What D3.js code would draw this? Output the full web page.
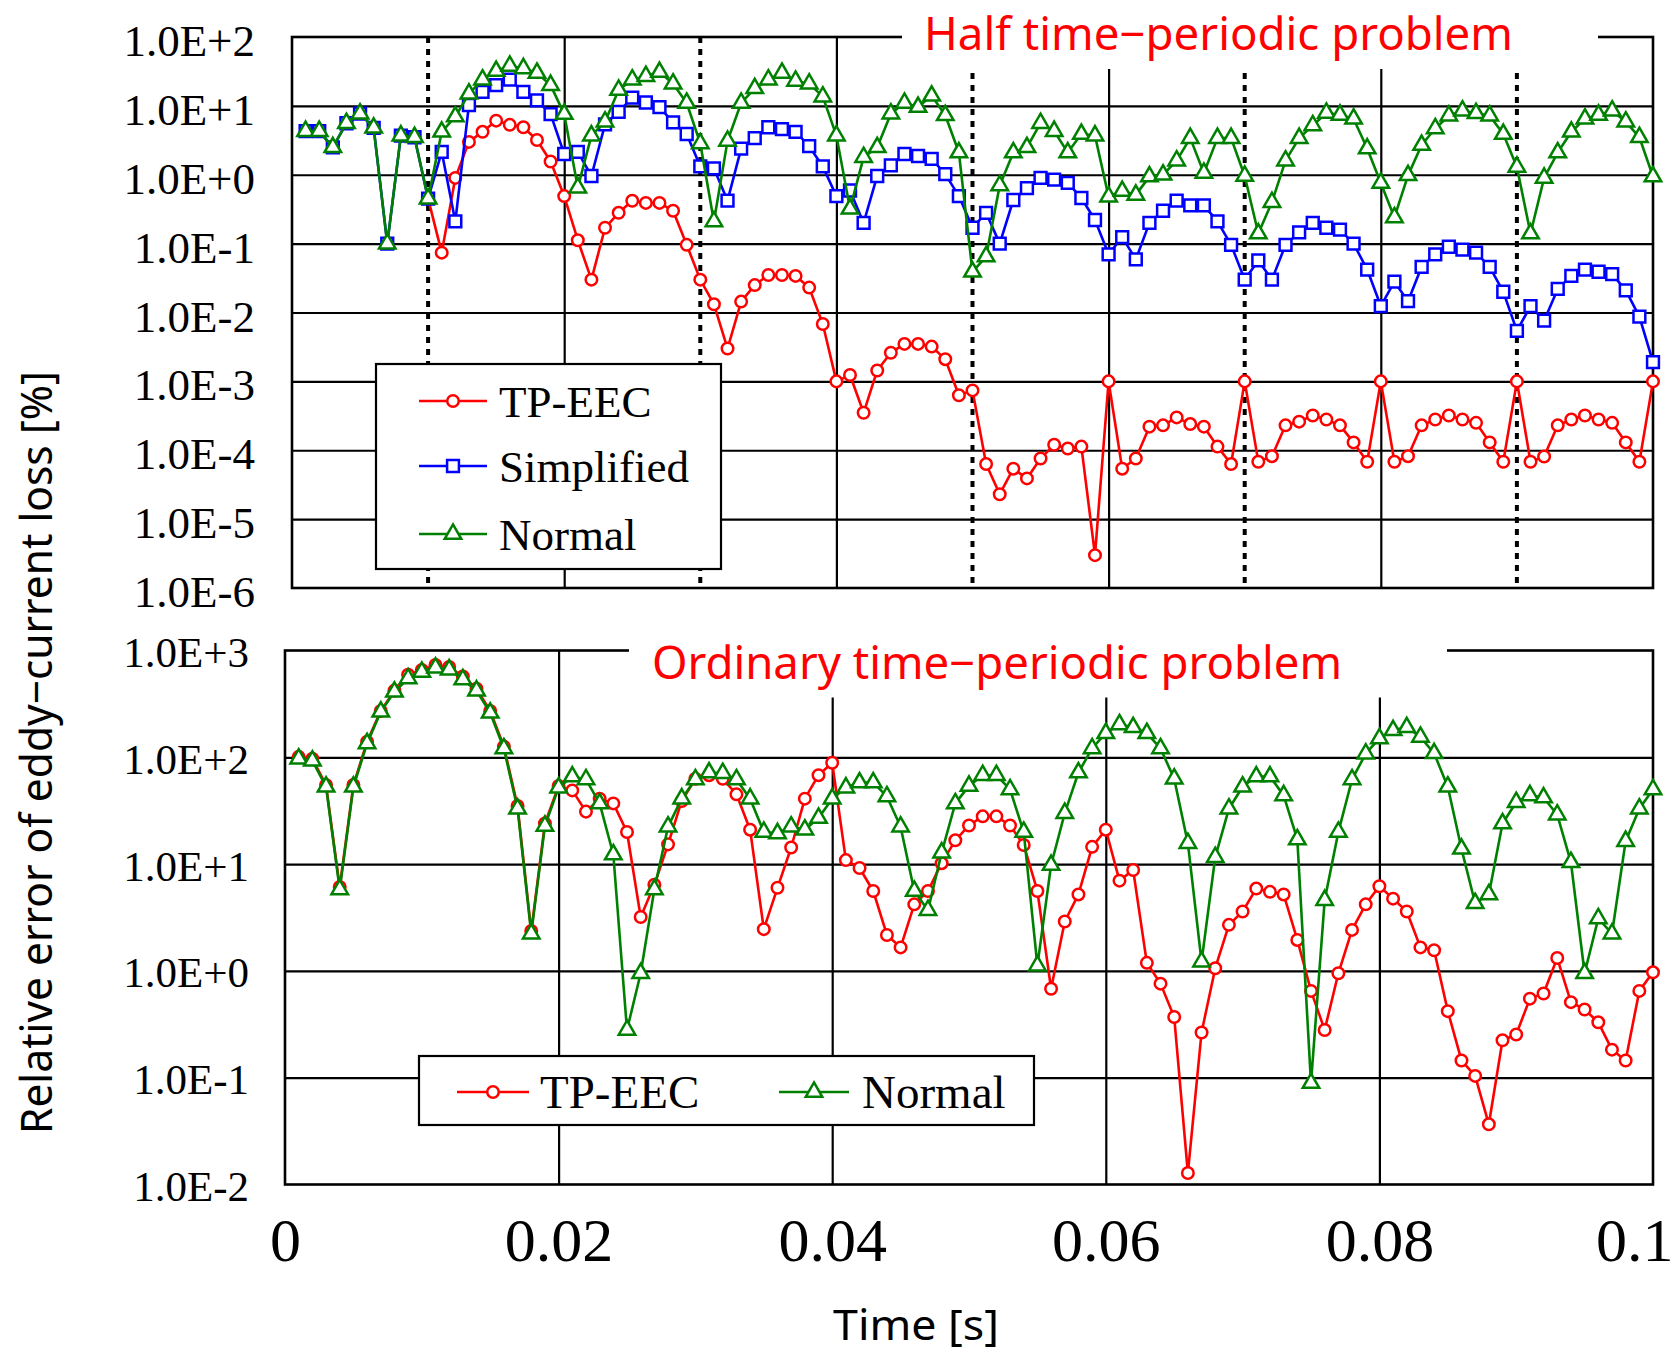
<!DOCTYPE html>
<html>
<head>
<meta charset="utf-8">
<script src="https://cdn.jsdelivr.net/npm/d3@7"></script>
<style>
  body { margin: 0; background: #fff; }
</style>
</head>
<body>
<div id="app"></div>
<script>
'use strict'

// sample times [s], one every 1 ms
const time = [
  0.001, 0.002, 0.003, 0.004, 0.005, 0.006, 0.007, 0.008, 0.009, 0.010,
  0.011, 0.012, 0.013, 0.014, 0.015, 0.016, 0.017, 0.018, 0.019, 0.020,
  0.021, 0.022, 0.023, 0.024, 0.025, 0.026, 0.027, 0.028, 0.029, 0.030,
  0.031, 0.032, 0.033, 0.034, 0.035, 0.036, 0.037, 0.038, 0.039, 0.040,
  0.041, 0.042, 0.043, 0.044, 0.045, 0.046, 0.047, 0.048, 0.049, 0.050,
  0.051, 0.052, 0.053, 0.054, 0.055, 0.056, 0.057, 0.058, 0.059, 0.060,
  0.061, 0.062, 0.063, 0.064, 0.065, 0.066, 0.067, 0.068, 0.069, 0.070,
  0.071, 0.072, 0.073, 0.074, 0.075, 0.076, 0.077, 0.078, 0.079, 0.080,
  0.081, 0.082, 0.083, 0.084, 0.085, 0.086, 0.087, 0.088, 0.089, 0.090,
  0.091, 0.092, 0.093, 0.094, 0.095, 0.096, 0.097, 0.098, 0.099, 0.100
]

// Half time-periodic problem, relative error [%]
const halfTpeec = [
  null, null, null, null, null, null, null, null, null, 0.45,
  0.074, 0.90, 3.0, 4.2, 6.1, 5.3, 4.9, 3.2, 1.56, 0.49,
  0.112, 0.030, 0.17, 0.28, 0.42, 0.39, 0.39, 0.30, 0.096, 0.030,
  0.0132, 0.0030, 0.0144, 0.025, 0.035, 0.035, 0.034, 0.023, 0.0068, 0.0010,
  0.00124, 0.00035, 0.00144, 0.0026, 0.0035, 0.0035, 0.0032, 0.0021, 0.00063, 0.00074,
  6.3e-5, 2.3e-5, 5.4e-5, 3.9e-5, 7.6e-5, 1.2e-4, 1.06e-4, 1.13e-4, 3.0e-6, 1.0e-3,
  5.4e-5, 7.6e-5, 2.2e-4, 2.3e-4, 3.0e-4, 2.4e-4, 2.2e-4, 1.13e-4, 6.3e-5, 1.0e-3,
  6.8e-5, 8.2e-5, 2.3e-4, 2.6e-4, 3.2e-4, 2.8e-4, 2.3e-4, 1.3e-4, 6.8e-5, 1.0e-3,
  6.8e-5, 8.2e-5, 2.3e-4, 2.8e-4, 3.2e-4, 2.8e-4, 2.5e-4, 1.3e-4, 6.8e-5, 1.0e-3,
  6.8e-5, 8.1e-5, 2.3e-4, 2.8e-4, 3.2e-4, 2.8e-4, 2.5e-4, 1.3e-4, 6.8e-5, 1.0e-3
]
const halfSimplified = [
  4.3, 4.3, 2.5, 5.6, 7.7, 4.8, 0.10, 3.7, 3.5, 0.45,
  2.15, 0.21, 10.3, 16, 20, 24, 16, 12, 7.6, 2.0,
  2.15, 0.96, 5.4, 8.2, 13.2, 11.2, 9.6, 5.75, 3.9, 1.32,
  1.24, 0.42, 2.4, 3.4, 4.9, 4.6, 4.2, 2.6, 1.32, 0.49,
  0.59, 0.20, 0.96, 1.37, 2.0, 1.87, 1.7, 1.02, 0.49, 0.17,
  0.28, 0.10, 0.43, 0.64, 0.90, 0.85, 0.76, 0.46, 0.22, 0.070,
  0.124, 0.059, 0.20, 0.30, 0.42, 0.36, 0.36, 0.21, 0.096, 0.030,
  0.057, 0.030, 0.096, 0.146, 0.20, 0.17, 0.16, 0.10, 0.042, 0.0124,
  0.028, 0.0146, 0.046, 0.070, 0.090, 0.082, 0.074, 0.046, 0.020, 0.0054,
  0.0124, 0.0076, 0.022, 0.034, 0.042, 0.039, 0.036, 0.021, 0.0087, 0.0019
]
const halfNormal = [
  4.3, 4.3, 2.5, 5.6, 7.7, 4.8, 0.10, 3.7, 3.5, 0.45,
  4.2, 7.0, 15, 24, 32, 38, 35, 30, 20, 7.6,
  0.65, 3.7, 5.9, 17, 24, 27, 31, 21, 11, 2.85,
  0.21, 3.1, 11, 18, 24, 30, 23, 21, 13.6, 3.7,
  0.32, 1.8, 2.5, 7.7, 11, 9.6, 14, 7.3, 2.1, 0.039,
  0.065, 0.70, 2.1, 2.5, 5.6, 4.3, 2.1, 3.9, 3.7, 0.48,
  0.58, 0.51, 0.94, 1.0, 1.6, 3.4, 1.06, 3.4, 3.4, 0.96,
  0.14, 0.40, 1.6, 3.4, 5.2, 7.9, 7.4, 6.5, 2.4, 0.76,
  0.24, 0.98, 2.7, 4.7, 7.2, 8.5, 7.8, 7.2, 3.9, 1.3,
  0.14, 0.90, 2.1, 4.2, 6.5, 7.4, 8.5, 5.9, 3.5, 0.94
]

// Ordinary time-periodic problem, relative error [%]
const ordTpeec = [
  101, 97, 55, 6.1, 55, 140, 272, 421, 594, 656,
  731, 701, 570, 438, 272, 126, 35, 2.36, 24, 54,
  49, 31, 41, 37, 20, 3.2, 6.4, 15.3, 39, 63,
  68, 63, 45, 21, 2.46, 6.0, 14.3, 41, 68, 89,
  10.9, 9.2, 5.6, 2.17, 1.66, 4.2, 5.6, 10.2, 16.7, 23,
  28, 28, 23, 15.1, 5.6, 0.68, 2.9, 5.2, 14.5, 21,
  7.0, 8.8, 1.19, 0.76, 0.37, 0.0128, 0.265, 1.06, 2.7, 3.6,
  5.9, 5.5, 5.2, 1.95, 0.65, 0.28, 0.95, 2.42, 4.2, 6.2,
  4.75, 3.6, 1.66, 1.56, 0.42, 0.145, 0.104, 0.0366, 0.224, 0.254,
  0.55, 0.615, 1.32, 0.51, 0.435, 0.33, 0.183, 0.145, 0.65, 0.97
]
const ordNormal = [
  97, 93, 53, 5.8, 53, 135, 267, 410, 547, 630,
  690, 662, 535, 421, 261, 121, 33, 2.23, 22.8, 52,
  66, 62, 37, 12.3, 0.28, 0.95, 5.8, 22.4, 41, 62,
  72, 71, 62, 41, 20, 19.4, 22.4, 21, 27, 41,
  52, 58, 58, 43, 22.4, 5.6, 3.7, 12.8, 37, 54,
  68, 68, 50, 20, 1.12, 9.8, 30, 72, 121, 168,
  203, 191, 168, 121, 63, 15.7, 1.22, 11.6, 33, 53,
  66, 66, 44, 17, 0.089, 4.6, 20, 62, 108, 150,
  179, 191, 155, 109, 53, 13.9, 4.3, 5.2, 24, 38,
  44, 42, 29, 10.4, 0.95, 3.1, 2.23, 16.4, 33, 50
]

const halfTicks = [1e2, 1e1, 1e0, 1e-1, 1e-2, 1e-3, 1e-4, 1e-5, 1e-6]
const halfTickLabels = ['1.0E+2', '1.0E+1', '1.0E+0', '1.0E-1', '1.0E-2', '1.0E-3', '1.0E-4', '1.0E-5', '1.0E-6']
const ordTicks = [1e3, 1e2, 1e1, 1e0, 1e-1, 1e-2]
const ordTickLabels = ['1.0E+3', '1.0E+2', '1.0E+1', '1.0E+0', '1.0E-1', '1.0E-2']
const timeTicks = [0, 0.02, 0.04, 0.06, 0.08, 0.1]
const timeTickLabels = ['0', '0.02', '0.04', '0.06', '0.08', '0.1']
const periodMarks = [0.01, 0.03, 0.05, 0.07, 0.09]

const serif = "'Liberation Serif', 'Times New Roman', serif"
const gothic = "'Noto Sans', sans-serif"

const styles = {
  tpeec: { name: 'TP-EEC', color: '#ff0000', symbol: d3.symbolCircle, size: 104 },
  simplified: { name: 'Simplified', color: '#0000ff', symbol: d3.symbolSquare, size: 140 },
  normal: { name: 'Normal', color: '#008000', symbol: d3.symbolTriangle, size: 118 }
}

const svg = d3.select('#app').append('svg')
  .attr('width', 1675)
  .attr('height', 1353)
  .style('background-color', '#fff')

const xRight = 1653

function drawPanel(p) {
  const x = d3.scaleLinear().domain([0, 0.1]).range([p.left, xRight])
  const y = d3.scaleLog().domain([p.ticks[p.ticks.length - 1], p.ticks[0]]).range([p.bottom, p.top])
  const g = svg.append('g')
  const w = xRight - p.left
  const h = p.bottom - p.top

  /*
   * Grid lines
   */
  g.append('g')
    .attr('transform', `translate(${p.left},0)`)
    .call(d3.axisLeft(y).tickValues(p.ticks.slice(1, -1)).tickSize(-w).tickFormat(''))
    .call(a => a.select('.domain').remove())
    .selectAll('line').attr('stroke', '#000').attr('stroke-width', 2.2)

  g.append('g')
    .attr('transform', `translate(0,${p.bottom})`)
    .call(d3.axisBottom(x).tickValues(timeTicks.slice(1, -1)).tickSize(-h).tickFormat(''))
    .call(a => a.select('.domain').remove())
    .selectAll('line').attr('stroke', '#000').attr('stroke-width', 2.2)

  // period boundaries (dotted)
  g.selectAll('.period')
    .data(p.periods || [])
    .enter()
    .append('line')
    .attr('x1', d => x(d)).attr('x2', d => x(d))
    .attr('y1', p.top).attr('y2', p.bottom)
    .attr('stroke', '#000')
    .attr('stroke-width', 4)
    .attr('stroke-dasharray', '6,6')

  // frame
  g.append('rect')
    .attr('x', p.left).attr('y', p.top)
    .attr('width', w).attr('height', h)
    .attr('fill', 'none').attr('stroke', '#000').attr('stroke-width', 2.6)

  /*
   * Y tick labels
   */
  g.append('g')
    .attr('transform', `translate(${p.left - p.labelGap},0)`)
    .call(d3.axisLeft(y).tickValues(p.ticks).tickSize(0).tickPadding(0)
      .tickFormat((d, i) => p.tickLabels[i]))
    .call(a => a.select('.domain').remove())
    .selectAll('text')
    .attr('font-family', serif)
    .attr('font-size', p.labelSize)
    .attr('fill', '#000')
    .attr('dy', p.labelDy)

  /*
   * Title in a white box that cuts the frame
   */
  g.append('rect')
    .attr('x', p.title.x0).attr('y', p.top - 20)
    .attr('width', p.title.x1 - p.title.x0)
    .attr('height', p.title.y1 - p.top + 20)
    .attr('fill', '#fff')
  g.append('text')
    .attr('x', p.title.tx).attr('y', p.title.ty)
    .attr('font-family', gothic)
    .attr('font-size', 45)
    .attr('fill', '#ff0000')
    .attr('textLength', p.title.len)
    .attr('lengthAdjust', 'spacingAndGlyphs')
    .text(p.title.text)

  /*
   * Series: lines then markers
   */
  const line = d3.line()
    .defined(d => d.v != null)
    .x(d => x(d.t))
    .y(d => y(d.v))

  p.series.forEach(s => {
    const st = styles[s.key]
    const pts = time.map((t, i) => ({ t, v: s.values[i] }))
    g.append('path')
      .datum(pts)
      .attr('fill', 'none')
      .attr('stroke', st.color)
      .attr('stroke-width', 2.6)
      .attr('stroke-linejoin', 'round')
      .attr('d', line)
    g.append('g').selectAll('path')
      .data(pts.filter(d => d.v != null))
      .enter()
      .append('path')
      .attr('transform', d => `translate(${x(d.t)},${y(d.v)})`)
      .attr('d', d3.symbol().type(st.symbol).size(st.size))
      .attr('fill', '#fff')
      .attr('stroke', st.color)
      .attr('stroke-width', 2.5)
  })

  /*
   * Legend
   */
  const L = p.legend
  g.append('rect')
    .attr('x', L.x0).attr('y', L.y0)
    .attr('width', L.x1 - L.x0).attr('height', L.y1 - L.y0)
    .attr('fill', '#fff').attr('stroke', '#000').attr('stroke-width', 2.2)
  L.items.forEach(it => {
    const st = styles[it.key]
    g.append('line')
      .attr('x1', it.lx0).attr('x2', it.lx1)
      .attr('y1', it.y).attr('y2', it.y)
      .attr('stroke', st.color).attr('stroke-width', 2.4)
    g.append('path')
      .attr('transform', `translate(${(it.lx0 + it.lx1) / 2},${it.y})`)
      .attr('d', d3.symbol().type(st.symbol).size(st.size))
      .attr('fill', '#fff').attr('stroke', st.color).attr('stroke-width', 2.5)
    g.append('text')
      .attr('x', it.tx).attr('y', it.y + 15.5)
      .attr('font-family', serif)
      .attr('font-size', L.fontSize)
      .attr('fill', '#000')
      .text(st.name)
  })

  return x
}

drawPanel({
  left: 292, top: 37, bottom: 588,
  ticks: halfTicks, tickLabels: halfTickLabels,
  labelGap: 37, labelSize: 45, labelDy: 18.5,
  periods: periodMarks,
  title: { x0: 902, x1: 1598, y1: 69, tx: 924, ty: 50, len: 589, text: 'Half time\u2212periodic problem' },
  series: [
    { key: 'tpeec', values: halfTpeec },
    { key: 'simplified', values: halfSimplified },
    { key: 'normal', values: halfNormal }
  ],
  legend: {
    x0: 376, x1: 721, y0: 364, y1: 569, fontSize: 45,
    items: [
      { key: 'tpeec', y: 401, lx0: 419, lx1: 487, tx: 499 },
      { key: 'simplified', y: 466, lx0: 419, lx1: 487, tx: 499 },
      { key: 'normal', y: 534, lx0: 419, lx1: 487, tx: 499 }
    ]
  }
})

const xOrd = drawPanel({
  left: 285, top: 650.5, bottom: 1184.5,
  ticks: ordTicks, tickLabels: ordTickLabels,
  labelGap: 36, labelSize: 43, labelDy: 16,
  periods: [],
  title: { x0: 629, x1: 1447, y1: 697.5, tx: 652, ty: 679, len: 690, text: 'Ordinary time\u2212periodic problem' },
  series: [
    { key: 'tpeec', values: ordTpeec },
    { key: 'normal', values: ordNormal }
  ],
  legend: {
    x0: 419, x1: 1034, y0: 1056, y1: 1125, fontSize: 47,
    items: [
      { key: 'tpeec', y: 1092, lx0: 457, lx1: 529, tx: 540 },
      { key: 'normal', y: 1092, lx0: 779, lx1: 849, tx: 862 }
    ]
  }
})

/*
 * X axis labels (bottom panel only)
 */
svg.append('g')
  .attr('transform', 'translate(0,1184.5)')
  .call(d3.axisBottom(xOrd).tickValues(timeTicks).tickSize(0)
    .tickFormat((d, i) => timeTickLabels[i]))
  .call(a => a.select('.domain').remove())
  .selectAll('text')
  .attr('font-family', serif)
  .attr('font-size', 62)
  .attr('fill', '#000')
  .attr('y', 76)
  .attr('dy', 0)
  .filter(d => d === 0.1)
  .attr('text-anchor', 'end')
  .attr('x', 1673 - xOrd(0.1))

svg.append('text')
  .attr('x', 916).attr('y', 1340)
  .attr('text-anchor', 'middle')
  .attr('font-family', gothic)
  .attr('font-size', 41)
  .attr('textLength', 166)
  .attr('lengthAdjust', 'spacingAndGlyphs')
  .text('Time [s]')

svg.append('text')
  .attr('transform', 'translate(52,752.5) rotate(-90)')
  .attr('text-anchor', 'middle')
  .attr('font-family', gothic)
  .attr('font-size', 44)
  .attr('textLength', 763)
  .attr('lengthAdjust', 'spacingAndGlyphs')
  .text('Relative error of eddy\u2212current loss [%]')
</script>
</body>
</html>
